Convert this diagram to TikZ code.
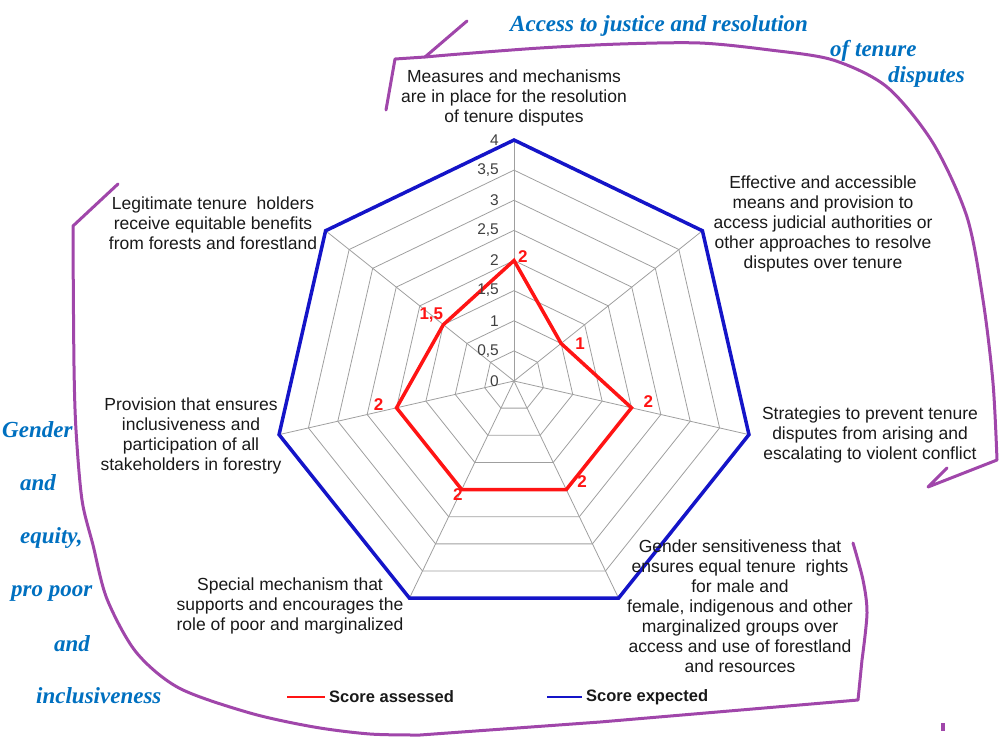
\documentclass[tikz,border=0pt]{standalone}
\usepackage{fontspec}
\setmainfont{Liberation Sans}
\newfontfamily\serifbi{Liberation Serif}
\usetikzlibrary{positioning}

\definecolor{purp}{RGB}{160,70,170}
\definecolor{ttlblue}{RGB}{0,112,192}
\definecolor{expblue}{RGB}{20,20,200}
\definecolor{assred}{RGB}{255,20,20}
\definecolor{txt}{RGB}{25,25,25}

\begin{document}
\begin{tikzpicture}[x=1pt, y=-1pt,
  lbl/.style={align=center, inner sep=0pt, text=txt, font=\fontsize{17.5}{20}\selectfont},
  ttl/.style={anchor=base west, inner sep=0pt, text=ttlblue, font=\serifbi\bfseries\itshape\fontsize{23}{26}\selectfont},
  hand/.style={draw=purp, line width=3pt, line cap=round, line join=round},
  grid/.style={draw=gray!75, line width=0.8pt},
  expect/.style={draw=expblue, line width=3.5pt, line join=miter},
  assess/.style={draw=assred, line width=3.5pt, line join=miter},
  val/.style={inner sep=0pt, text=assred, font=\bfseries\fontsize{17}{19}\selectfont},
  tick/.style={anchor=east, inner sep=0pt, text=black!75, font=\fontsize{15.5}{17}\selectfont},
  leg/.style={anchor=west, inner xsep=4pt, inner ysep=0pt, text=txt, font=\bfseries\fontsize{16.5}{18}\selectfont}]
\useasboundingbox (0,0) rectangle (1000,750);

% radar chart
\begin{scope}[shift={(514,381)}, y=1pt]
\foreach \r in {1,...,8}
  \draw[grid] (90:\r*30.125) \foreach \k in {1,...,6}{ -- (90-\k*360/7:\r*30.125)} -- cycle;
\foreach \k in {0,...,6}
  \draw[grid] (0,0) -- (90-\k*360/7:241);
\draw[expect] (90:241) \foreach \k in {1,...,6}{ -- (90-\k*360/7:241)} -- cycle;
\foreach \v [count=\k from 0] in {2,1,2,2,2,2,1.5}
  \coordinate (s\k) at (90-\k*360/7:\v*60.25);
\draw[assess] (s0) -- (s1) -- (s2) -- (s3) -- (s4) -- (s5) -- (s6) -- cycle;
\foreach \i/\t in {0/0,1/{0,5},2/1,3/{1,5},4/2,5/{2,5},6/3,7/{3,5},8/4}
  \node[tick] (t\i) at (-15,\i*30.125) {\t};
\end{scope}

\node[val, right=4pt of s0, yshift=4pt] (v0) {2};
\node[val, right=14pt of s1] (v1) {1};
\node[val, right=12pt of s2, yshift=6pt] (v2) {2};
\node[val, right=11pt of s3, yshift=8pt] (v3) {2};
\node[val, below=-1pt of s4, xshift=-4pt] (v4) {2};
\node[val, left=13pt of s5, yshift=3pt] (v5) {2};
\node[val, left=0pt of s6, yshift=10pt] (v6) {1,5};

% axis texts
\node[lbl] (meas) at (514,98) {Measures and mechanisms\\are in place for the resolution\\of tenure disputes};
\node[lbl] (eff) at (823,224) {Effective and accessible\\means and provision to\\access judicial authorities or\\other approaches to resolve\\disputes over tenure};
\node[lbl] (strat) at (870,435) {Strategies to prevent tenure\\disputes from arising and\\escalating to violent conflict};
\node[lbl] (gend) at (740,606) {Gender sensitiveness that\\ensures equal tenure~ rights\\for male and\\female, indigenous and other\\marginalized groups over\\access and use of forestland\\and resources};
\node[lbl] (spec) at (290,606) {Special mechanism that\\supports and encourages the\\role of poor and marginalized};
\node[lbl] (prov) at (191,436) {Provision that ensures\\inclusiveness and\\participation of all\\stakeholders in forestry};
\node[lbl] (legit) at (213,223) {Legitimate tenure~ holders\\receive equitable benefits\\from forests and forestland};

% legend
\coordinate (la) at (287,697);
\node[leg] (lega) at (325,697) {Score assessed};
\draw[assred, line width=2.5pt] (la) -- (lega.west);
\coordinate (lb) at (547,697);
\node[leg] (legb) at (582,697) {Score expected};
\draw[expblue, line width=2.5pt] (lb) -- (legb.west);

% group titles
\node[ttl] (acc) at (510,31) {Access to justice and resolution};
\node[ttl] (oft) at (830,56) {of tenure};
\node[ttl] (dis) at (888,82) {disputes};
\node[ttl] (gen) at (2,437) {Gender};
\node[ttl] (and1) at (20,490) {and};
\node[ttl] (eq) at (20,543) {equity,};
\node[ttl] (pro) at (11,596) {pro poor};
\node[ttl] (and2) at (54,651) {and};
\node[ttl] (incl) at (36,703) {inclusiveness};

% hand drawn brackets
\draw[hand] (467,21) -- (425,57);
\draw[hand] (386,110) -- (395,59) -- plot[smooth] coordinates {(425,57) (460,54) (540,48) (620,44) (700,43) (770,50) (833,60) (887,87) (933,143) (967,217) (983,300) (993,383) (997,460)} -- (928,487) -- (947,468);
\draw[hand] (118,184) -- (73,226) -- plot[smooth] coordinates {(73,240) (74,366) (76,430) (82,500) (93,545) (107,599) (136,652) (179,688) (250,713) (314,727) (370,734) (420,735)} -- (600,722) -- (858,700) -- plot[smooth] coordinates {(862,660) (867,613) (863,580) (853,543)};
\fill[purp] (941,723) rectangle (945,731);
\end{tikzpicture}
\end{document}
